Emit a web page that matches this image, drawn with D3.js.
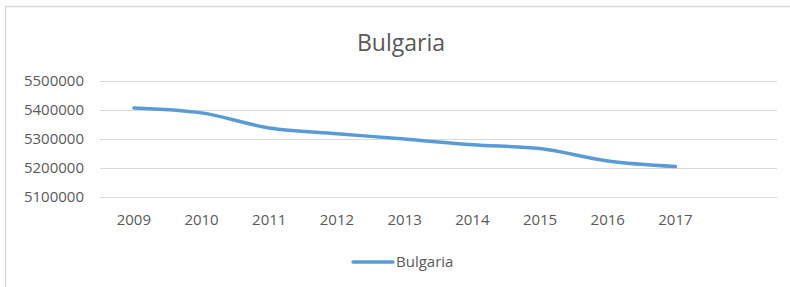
<!DOCTYPE html>
<html><head><meta charset="utf-8">
<script src="https://cdn.jsdelivr.net/npm/d3@7/dist/d3.min.js"></script>
<style>body{margin:0;background:#fff;}svg{display:block;}text{font-family:"Open Sans",sans-serif;}</style>
</head><body><svg id="c" width="790" height="287"></svg>
<script>
const years = ["2009","2010","2011","2012","2013","2014","2015","2016","2017"];
const values = [5406000,5389000,5337000,5317000,5299000,5279000,5266000,5223000,5204000];
const yTicks = [5100000,5200000,5300000,5400000,5500000];
const seriesName = "Bulgaria";

const svg = d3.select("#c");
svg.append("rect").attr("x",5.5).attr("y",6.5).attr("width",800).attr("height",300)
  .attr("fill","#fff").attr("stroke","#d9d9d9").attr("stroke-width",1.5);

const x = d3.scaleBand().domain(years.concat(["_"])).range([100,777]);
const y = d3.scaleLinear().domain([5100000,5500000]).range([196.7,80.7]);

// gridlines
svg.append("g").selectAll("line").data(yTicks).join("line")
  .attr("x1",100).attr("x2",777).attr("y1",d=>Math.round(y(d))+0.5).attr("y2",d=>Math.round(y(d))+0.5)
  .attr("stroke","#d9d9d9").attr("stroke-width",1);

// y axis labels
const ya = svg.append("g").attr("transform","translate(84,0)")
  .call(d3.axisLeft(y).tickValues(yTicks).tickSize(0).tickPadding(0).tickFormat(d3.format("d")));
ya.select(".domain").remove();
ya.selectAll("text").attr("fill","#595959").attr("font-size","15px");

// x axis labels
const xa = svg.append("g").attr("transform","translate(0,214)")
  .call(d3.axisBottom(x).tickValues(years).tickSize(0).tickPadding(0));
xa.select(".domain").remove();
xa.selectAll("text").attr("fill","#595959").attr("font-size","15px");

// line
const line = d3.line().x((d,i)=>x(years[i])+x.bandwidth()/2).y(d=>y(d)).curve(d3.curveMonotoneX);
svg.append("path").datum(values).attr("d",line).attr("fill","none")
  .attr("stroke","#5b9bd5").attr("stroke-width",3.5).attr("stroke-linecap","round");

// title
svg.append("text").attr("x",401).attr("y",51).attr("text-anchor","middle")
  .attr("font-size","23px").attr("fill","#595959").text(seriesName);

// legend
svg.append("line").attr("x1",353).attr("x2",393).attr("y1",262).attr("y2",262)
  .attr("stroke","#5b9bd5").attr("stroke-width",3.5).attr("stroke-linecap","round");
svg.append("text").attr("x",396).attr("y",267).attr("font-size","15px").attr("fill","#595959").text(seriesName);
</script></body></html>
